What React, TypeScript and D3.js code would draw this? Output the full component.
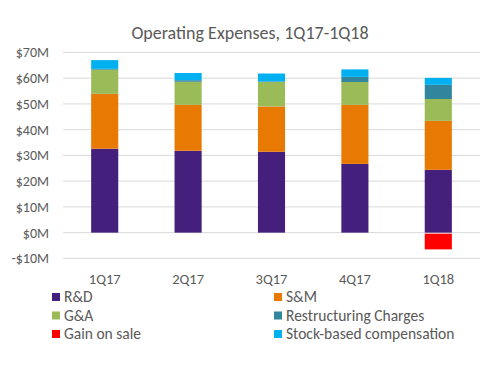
import React from "react";
import * as d3 from "d3";

const categories = ["1Q17", "2Q17", "3Q17", "4Q17", "1Q18"];
const seriesNames = ["R&D", "S&M", "G&A", "Restructuring Charges", "Gain on sale", "Stock-based compensation"];
const rnd = [32.6, 31.8, 31.4, 26.7, 24.4];
const sm = [21.3, 17.8, 17.6, 22.9, 19.0];
const ga = [9.4, 9.0, 9.5, 8.9, 8.5];
const restructuring = [0.3, 0.6, 0.2, 2.0, 5.5];
const gainOnSale = [0, 0, 0, 0, -6.5];
const sbc = [3.4, 2.8, 3.1, 2.9, 2.7];
const yTicks = [-10, 0, 10, 20, 30, 40, 50, 60, 70];
const colors = ["#44207C", "#E87A04", "#9BBB59", "#31859C", "#FF0000", "#00B0F0"];

const stackOrder = [rnd, sm, ga, restructuring, sbc];
const stackColors = [colors[0], colors[1], colors[2], colors[3], colors[5]];

export default function App() {
  const W = 493, H = 377;
  const left = 63, right = 480, top = 52.4, bottom = 258.4;
  const x = d3.scaleBand().domain(categories).range([left, right]).paddingInner(0.675).paddingOuter(0.3375);
  const y = d3.scaleLinear().domain([-10, 70]).range([bottom, top]);
  const font = "Calibri, Carlito, Lato, sans-serif";
  const textColor = "#595959";

  const rects: JSX.Element[] = [];
  categories.forEach((c, i) => {
    let base = 0;
    stackOrder.forEach((s, k) => {
      const v = s[i];
      const y0 = y(base), y1 = y(base + v);
      rects.push(<rect key={`${c}-${k}`} x={x(c)} width={x.bandwidth()} y={y1} height={y0 - y1} fill={stackColors[k]} />);
      base += v;
    });
    const g = gainOnSale[i];
    if (g < 0) {
      rects.push(<rect key={`${c}-gain`} x={x(c)} width={x.bandwidth()} y={y(0) + 1} height={y(g) - y(0) - 1} fill={colors[4]} />);
    }
  });

  const legendItems = [
    { name: seriesNames[0], color: colors[0], col: 0, row: 0 },
    { name: seriesNames[1], color: colors[1], col: 1, row: 0 },
    { name: seriesNames[2], color: colors[2], col: 0, row: 1 },
    { name: seriesNames[3], color: colors[3], col: 1, row: 1 },
    { name: seriesNames[4], color: colors[4], col: 0, row: 2 },
    { name: seriesNames[5], color: colors[5], col: 1, row: 2 },
  ];

  return (
    <svg width={W} height={H} style={{ position: "absolute", left: 0, top: 0, background: "#fff" }}>
      <rect width={W} height={H} fill="#fff" />
      <text x={250} y={39} textAnchor="middle" fontSize={18} fill={textColor} fontFamily={font}>
        Operating Expenses, 1Q17-1Q18
      </text>
      {yTicks.map((t) => (
        <g key={t}>
          <line x1={left} x2={right} y1={y(t)} y2={y(t)} stroke="#D9D9D9" strokeWidth={1} />
          <text x={49} y={y(t)} dy="0.35em" textAnchor="end" fontSize={14} fill={textColor} fontFamily={font}>
            {t < 0 ? `-$${Math.abs(t)}M` : `$${t}M`}
          </text>
        </g>
      ))}
      {rects}
      {categories.map((c) => (
        <text key={c} x={(x(c) as number) + x.bandwidth() / 2} y={284} textAnchor="middle" fontSize={14.5} fill={textColor} fontFamily={font}>
          {c}
        </text>
      ))}
      {legendItems.map((d) => {
        const lx = d.col === 0 ? 52 : 274;
        const ly = 297 + d.row * 18.5;
        return (
          <g key={d.name}>
            <rect x={lx} y={ly - 4} width={8} height={8} fill={d.color} />
            <text x={lx + 12} y={ly} dy="0.35em" fontSize={15.5} fill={textColor} fontFamily={font}>
              {d.name}
            </text>
          </g>
        );
      })}
    </svg>
  );
}
